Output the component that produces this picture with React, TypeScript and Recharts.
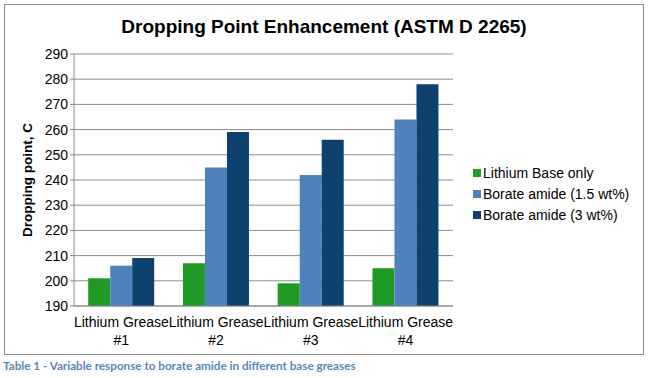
import React from 'react';
import { BarChart, Bar, XAxis, YAxis, CartesianGrid, Legend } from 'recharts';

const categories = ['Lithium Grease #1', 'Lithium Grease #2', 'Lithium Grease #3', 'Lithium Grease #4'];
const lithiumBase = [201, 207, 199, 205];
const borate15 = [206, 245, 242, 264];
const borate3 = [209, 259, 256, 278];
const yTicks = [190, 200, 210, 220, 230, 240, 250, 260, 270, 280, 290];
const edgeTicks = [0, 1, 2, 3, 4];

const series = [
  { key: 'base', name: 'Lithium Base only', color: '#1f9a24' },
  { key: 'b15', name: 'Borate amide (1.5 wt%)', color: '#4f81bd' },
  { key: 'b3', name: 'Borate amide (3 wt%)', color: '#0f416e' },
];

const data = categories.map((c, i) => ({
  name: c,
  base: lithiumBase[i],
  b15: borate15[i],
  b3: borate3[i],
}));

const font = 'Liberation Sans, Arial, sans-serif';

const CatTick = (props: any) => {
  const { x, y, payload } = props;
  const words = String(payload.value).split(' ');
  const first = words.slice(0, 2).join(' ');
  const second = words.slice(2).join(' ');
  return (
    <text x={x} y={y} textAnchor="middle" fill="#000" fontSize={14} fontFamily={font}>
      <tspan x={x} dy={13}>{first}</tspan>
      <tspan x={x} dy={18}>{second}</tspan>
    </text>
  );
};

const LegendBox = () => (
  <div style={{ fontFamily: font, fontSize: 14, color: '#000' }}>
    {series.map((s) => (
      <div key={s.key} style={{ display: 'flex', alignItems: 'center', height: 21 }}>
        <span style={{ width: 8, height: 8, background: s.color, marginRight: 2, display: 'inline-block' }} />
        <span>{s.name}</span>
      </div>
    ))}
  </div>
);

export default function App() {
  return (
    <div style={{ position: 'absolute', left: 0, top: 0, width: 650, height: 378, background: '#fff' }}>
      <div
        style={{
          position: 'absolute',
          left: 4,
          top: 4,
          width: 640,
          height: 351,
          border: '1px solid #8c8c8c',
          boxSizing: 'border-box',
        }}
      >
        <div
          style={{
            position: 'absolute',
            left: 0,
            top: 11,
            width: '100%',
            textAlign: 'center',
            fontFamily: font,
            fontWeight: 'bold',
            fontSize: 19,
            color: '#000',
          }}
        >
          Dropping Point Enhancement (ASTM D 2265)
        </div>
        <BarChart
          width={638}
          height={349}
          data={data}
          margin={{ top: 49, right: 20, bottom: 8, left: 0 }}
          barCategoryGap="15%"
          barGap={0}
        >
          <CartesianGrid vertical={false} stroke="#8c8c8c" />
          <XAxis
            xAxisId="edges"
            type="number"
            domain={[0, 4]}
            ticks={edgeTicks}
            interval={0}
            tick={{ fontSize: 1, fill: 'none' }}
            tickFormatter={() => ''}
            axisLine={false}
            tickLine={{ stroke: '#8c8c8c' }}
            tickSize={5}
            height={0}
          />
          <XAxis
            dataKey="name"
            tick={<CatTick />}
            tickLine={false}
            axisLine={{ stroke: '#8c8c8c' }}
            interval={0}
            height={40}
          />
          <YAxis
            domain={[190, 290]}
            ticks={yTicks}
            interval={0}
            width={69}
            tick={{ fill: '#000', fontSize: 14, fontFamily: font }}
            tickLine={{ stroke: '#8c8c8c' }}
            tickSize={4}
            axisLine={{ stroke: '#8c8c8c' }}
            label={{
              value: 'Dropping point, C',
              angle: -90,
              position: 'insideLeft',
              offset: 22,
              style: { textAnchor: 'middle', fontWeight: 'bold', fontSize: 13.5, fontFamily: font, fill: '#000' },
            }}
          />
          {series.map((s) => (
            <Bar key={s.key} dataKey={s.key} name={s.name} fill={s.color} isAnimationActive={false} />
          ))}
          <Legend
            layout="horizontal"
            verticalAlign="middle"
            align="right"
            content={<LegendBox />}
            wrapperStyle={{ left: 468, top: 157, width: 170 }}
          />
        </BarChart>
      </div>
      <div
        style={{
          position: 'absolute',
          left: 3,
          top: 358,
          fontFamily: 'Lato, sans-serif',
          fontWeight: 'bold',
          fontSize: 11.7,
          color: '#5a86b8',
          whiteSpace: 'nowrap',
        }}
      >
        Table 1 - Variable response to borate amide in different base greases
      </div>
    </div>
  );
}
